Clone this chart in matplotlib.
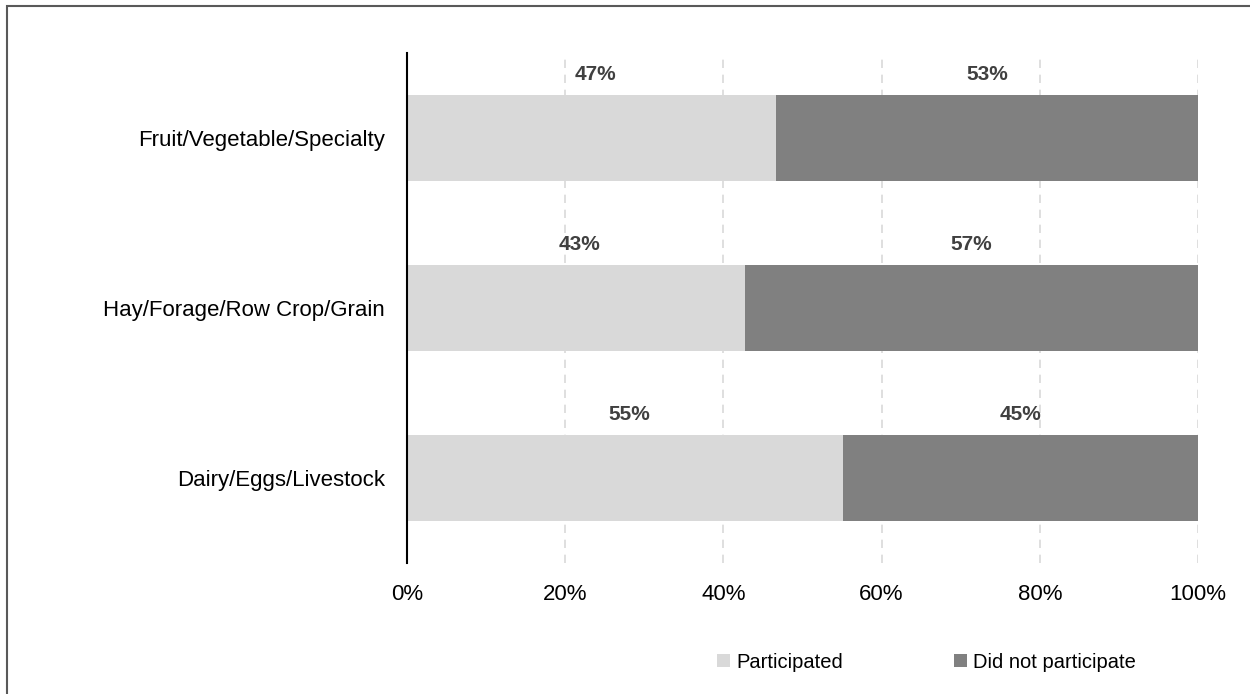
import matplotlib
matplotlib.use('Agg')
import matplotlib.pyplot as plt
from matplotlib.patches import Rectangle

# Participation by farm type (percent of respondents)
categories = ['Dairy/Eggs/Livestock', 'Hay/Forage/Row Crop/Grain', 'Fruit/Vegetable/Specialty']
participated = [55.1, 42.7, 46.6]
not_participated = [44.9, 57.3, 53.4]
part_labels = ['55%', '43%', '47%']
not_labels = ['45%', '57%', '53%']
series_names = ['Participated', 'Did not participate']
x_ticks = [0, 20, 40, 60, 80, 100]
x_ticklabels = ['0%', '20%', '40%', '60%', '80%', '100%']

plt.rcParams['font.family'] = ['Liberation Sans', 'DejaVu Sans']

fig = plt.figure(figsize=(12.5, 6.94), dpi=100)
ax = fig.add_axes([0.3256, 0.1888, 0.6328, 0.7348])

ypos = list(range(len(categories)))
c_light = '#d9d9d9'
c_dark = '#808080'
ax.barh(ypos, participated, height=0.51, color=c_light, label=series_names[0], zorder=2)
ax.barh(ypos, not_participated, left=participated, height=0.51, color=c_dark,
        label=series_names[1], zorder=2)

# value labels sit just above each segment
for y, p, n, lp, ln in zip(ypos, participated, not_participated, part_labels, not_labels):
    ax.text(p / 2 + 0.5, y + 0.255 + 0.06, lp, ha='center', va='bottom', fontsize=15,
            fontweight='bold', color='#404040')
    ax.text(p + n / 2, y + 0.255 + 0.06, ln, ha='center', va='bottom', fontsize=15,
            fontweight='bold', color='#404040')

ax.set_xlim(0, 100)
ax.set_ylim(-0.5, len(categories) - 0.5)
ax.set_xticks(x_ticks)
ax.set_xticklabels(x_ticklabels)
ax.set_yticks(ypos)
ax.set_yticklabels(categories)
ax.tick_params(axis='both', length=0, labelsize=16, colors='#000000')
ax.tick_params(axis='x', pad=15)
ax.tick_params(axis='y', pad=16)

for x in x_ticks[1:]:
    ax.axvline(x, color='#d9d9d9', linestyle=(0, (5, 4)), linewidth=1.2, zorder=1)

for s in ['top', 'right', 'bottom']:
    ax.spines[s].set_visible(False)
ax.spines['left'].set_linewidth(1.5)
ax.spines['left'].set_color('#000000')
ax.spines['left'].set_zorder(3)

fig.legend(loc='center', bbox_to_anchor=(0.741, 0.046), ncol=2, frameon=False,
           fontsize=14.5, handlelength=0.65, handleheight=0.65, handletextpad=0.3,
           columnspacing=5.5)

# outer frame
fig.patches.append(Rectangle((7 / 1250, -0.05), 1.2, 1 - 6 / 694 + 0.05,
                             transform=fig.transFigure, fill=False,
                             edgecolor='#595959', linewidth=1.5))

fig.savefig('out.png', dpi=100)
